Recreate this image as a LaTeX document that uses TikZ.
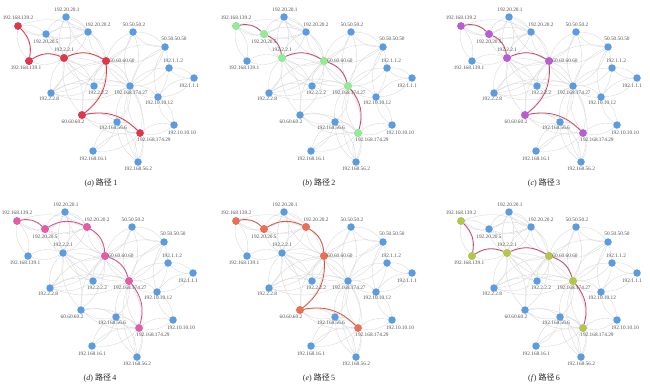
\documentclass[tikz,border=0pt]{standalone}
\usepackage{fontspec}
\setmainfont{Liberation Serif}
\newfontfamily\cjk{Noto Sans CJK SC}
\pgfdeclarelayer{edgelayer}
\pgfdeclarelayer{pathlayer}
\pgfsetlayers{edgelayer,pathlayer,main}
\definecolor{nodeblue}{HTML}{5A9BE1}
\definecolor{edgegray}{HTML}{D6D6D6}
\definecolor{lblgray}{HTML}{505050}
\definecolor{cred}{HTML}{E4344A}
\definecolor{cgreen}{HTML}{90EE90}
\definecolor{corchid}{HTML}{BE5AD2}
\definecolor{cpink}{HTML}{E85AA5}
\definecolor{ccoral}{HTML}{EE6E50}
\definecolor{cyg}{HTML}{B4C846}
\definecolor{ecrimson}{HTML}{C8466E}
\definecolor{epink}{HTML}{D64C8C}
\definecolor{ecoral}{HTML}{E0503C}
\tikzset{
  netnode/.style={circle, fill=nodeblue, minimum size=7.5pt, inner sep=0pt},
  lbl/.style={font=\fontsize{5.3}{6}\selectfont, text=lblgray, inner sep=0pt},
  grayedge/.style={draw=edgegray, line width=0.35pt},
  pathedge/.style={line width=0.8pt},
  captext/.style={font=\fontsize{8}{9}\selectfont, text=black!85}
}
\newcommand\netnodes{A/18/26/0/-8/192.168.139.2, B/66/17/1/-7/192.20.20.1,
  C/88/32/10/-7/192.20.20.2, D/46/34/0/8/192.20.20.5, E/64/58/0/-8/192.2.2.1,
  F/29/61/-3/7/192.168.139.1, G/106/61/16/0/60.60.60.60, H/133/32/1/-7/50.50.50.2,
  I/165/47/9/-8/50.50.50.50, J/169/68/4/-7/192.1.1.2, K/194/78/-5/8/192.1.1.1,
  L/94/86/4/7/192.2.2.2, M/51/93/-2/6/192.2.2.8, N/130/86/1/7/192.168.174.27,
  O/158/97/1/6/192.10.10.12, P/82/115/-9/7/60.60.60.2, Q/117/122/-4/6/192.168.56.6,
  R/174/125/8/8/192.10.10.10, S/140/133/14/7/192.168.174.29, T/93/151/0/8/192.168.16.1,
  U/138/162/0/7/192.168.56.2}
\newcommand\netedges{A/F, A/D, A/C, B/D, B/C, B/E, B/G, C/D, C/G, C/E, D/E, F/E,
  E/G, E/M, E/L, E/N, E/P, M/G, M/L, M/N, L/G, L/N, G/H, G/I, G/N, G/P, H/I, H/N,
  I/N, I/O, J/K, J/N, K/O, O/N, O/R, R/S, N/S, N/Q, N/U, S/P, S/T, S/U, S/Q, Q/U,
  Q/P, T/Q}
% #1 xoff, #2 yoff, #3 prefix, #4 node colour, #5 path colour, #6 path, #7 letter, #8 number
\newcommand\netpanel[8]{%
\begin{scope}[shift={(#1,#2)}]
  \foreach \n/\x/\y/\dx/\dy/\t in \netnodes {
    \node[netnode] (#3\n) at (\x,\y) {};
  }
  \begin{pgfonlayer}{edgelayer}
    \foreach \s/\t in \netedges {
      \draw[grayedge] (#3\s) to[bend left=24] (#3\t);
      \draw[grayedge] (#3\t) to[bend left=24] (#3\s);
    }
  \end{pgfonlayer}
  \begin{pgfonlayer}{pathlayer}
    \foreach \s/\t in {#6} {
      \draw[pathedge, draw=#5] (#3\s) to[bend left=28] (#3\t);
    }
  \end{pgfonlayer}
  \foreach \s/\t in {#6} {
    \node[netnode, fill=#4] (#3\s-h) at (#3\s) {};
    \node[netnode, fill=#4] (#3\t-h) at (#3\t) {};
  }
  \foreach \n/\x/\y/\dx/\dy/\t in \netnodes {
    \node[lbl] (#3\n-l) at (\x+\dx,\y+\dy) {\t};
  }
  \node[captext] (#3cap) at (101,183) {(\textit{#7})\ {\cjk 路径}\,#8};
\end{scope}}
\begin{document}
\begin{tikzpicture}[x=1pt, y=-1pt]
\useasboundingbox (0,0) rectangle (650,391);
\netpanel{0}{0}{a}{cred}{cred}{A/F, F/E, E/G, G/P, P/S}{a}{1}
\netpanel{218}{0}{b}{cgreen}{ecrimson}{A/D, D/E, E/G, G/N, N/S}{b}{2}
\netpanel{443}{0}{c}{corchid}{ecrimson}{A/D, D/E, E/G, G/P, P/S}{c}{3}
\netpanel{-1}{195}{d}{cpink}{epink}{A/D, D/C, C/G, G/N, N/S}{d}{4}
\netpanel{218}{195}{e}{ccoral}{ecoral}{A/D, D/C, C/G, G/P, P/S}{e}{5}
\netpanel{443}{195}{f}{cyg}{ecrimson}{A/F, F/E, E/G, G/N, N/S}{f}{6}
\end{tikzpicture}
\end{document}
